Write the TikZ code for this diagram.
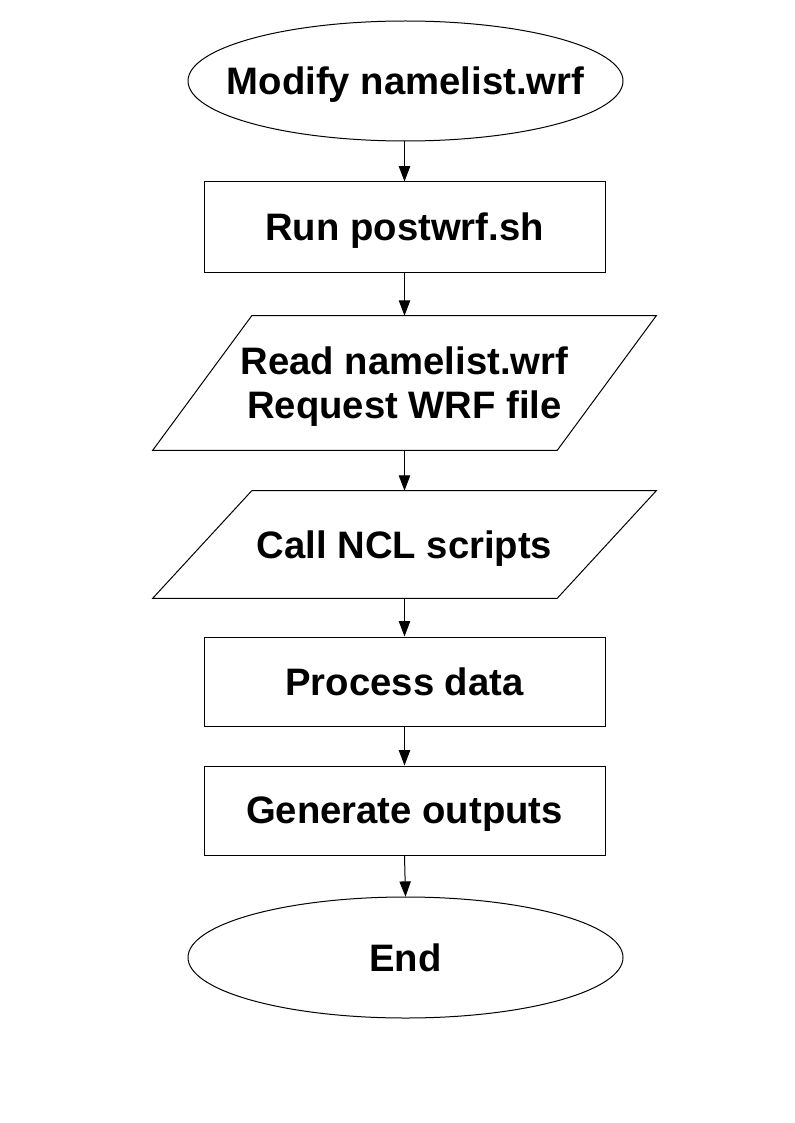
\documentclass[tikz,border=0pt]{standalone}
\usepackage{fontspec}
\setmainfont{Liberation Sans}
\usetikzlibrary{shapes.geometric,arrows.meta}
\begin{document}
\begin{tikzpicture}[x=0.75pt,y=-0.75pt,
  every node/.style={font=\bfseries\fontsize{28.7pt}{33pt}\selectfont, align=center, inner sep=0pt, text depth=0pt},
  oval/.style={rectangle, draw=none, minimum width=326.25pt, minimum height=90pt},
  box/.style={rectangle, draw, line width=0.75pt, minimum width=300.75pt, minimum height=67.5pt},
  iobox/.style={rectangle, draw=none, minimum width=377.25pt},
  link/.style={line width=0.75pt, -{Triangle[length=11.5pt,width=8.5pt]}},
  edge/.style={line width=0.75pt}]
\useasboundingbox (0,0) rectangle (794,1123);
\node[oval] (start) at (405.5,81) {Modify namelist.wrf};
\node[box] (run) at (404.5,227) {Run postwrf.sh};
\node[iobox, minimum height=100.5pt] (read) at (404.5,383) {Read namelist.wrf\\Request WRF file};
\node[iobox, minimum height=80.25pt] (ncl) at (404.5,544.5) {Call NCL scripts};
\node[box, minimum height=66.75pt] (proc) at (404.5,681.5) {Process data};
\node[box, minimum height=66.75pt] (gen) at (404.5,810.5) {Generate outputs};
\node[oval, minimum height=90.75pt] (end) at (405.5,957.5) {End};
\draw[edge] (start.center) ellipse [x radius=163.125pt, y radius=45pt];
\draw[edge] (end.center) ellipse [x radius=163.125pt, y radius=45.375pt];
\draw[edge] ([xshift=74.25pt]read.north west) -- (read.north east) -- ([xshift=-74.25pt]read.south east) -- (read.south west) -- cycle;
\draw[edge] ([xshift=74.25pt]ncl.north west) -- (ncl.north east) -- ([xshift=-74.25pt]ncl.south east) -- (ncl.south west) -- cycle;
\draw[link] (start.south -| run.north) -- (run.north);
\draw[link] (run.south) -- (read.north);
\draw[link] (read.south) -- (ncl.north);
\draw[link] (ncl.south) -- (proc.north);
\draw[link] (proc.south) -- (gen.north);
\draw[link] (gen.south) -- (end.north);
\end{tikzpicture}
\end{document}
